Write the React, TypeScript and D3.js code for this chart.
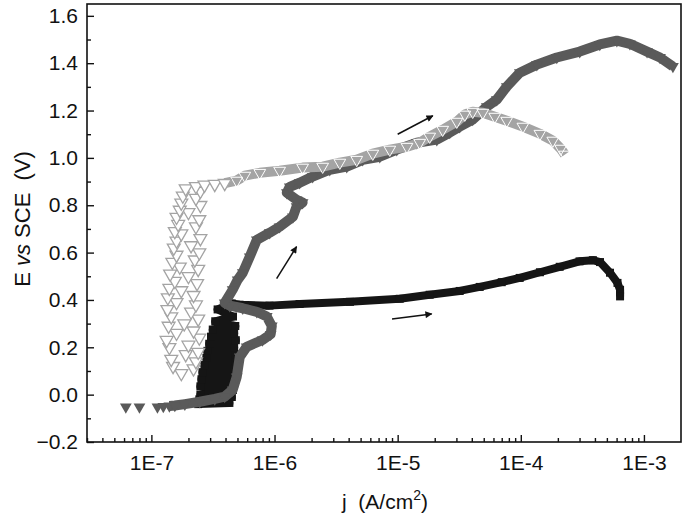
import React, { useRef, useEffect } from "react";
import * as d3 from "d3";

// black curve (filled squares): current density j (A/cm2) and potential E (V)
const blackJ = [
  2.4e-7, 4.3e-7, 2.45e-7, 4.5e-7, 2.5e-7, 4.6e-7, 2.5e-7, 4.7e-7, 2.55e-7, 4.8e-7,
  2.6e-7, 4.7e-7, 2.7e-7, 4.85e-7, 2.8e-7, 4.8e-7, 2.85e-7, 4.7e-7, 2.95e-7, 4.85e-7,
  3.05e-7, 4.7e-7, 3.15e-7, 4.8e-7, 3.3e-7, 4.6e-7, 3.45e-7, 4.5e-7,
  5.2e-7, 9.1e-7, 1.6e-6, 4.1e-6, 1.04e-5, 1.82e-5, 3.19e-5, 4.64e-5, 7.0e-5, 9.8e-5,
  1.43e-4, 2.07e-4, 3.0e-4, 3.85e-4, 4.4e-4, 5.3e-4, 6.1e-4, 6.4e-4, 6.4e-4,
];
const blackE = [
  -0.04, -0.035, -0.02, -0.01, 0.0, 0.02, 0.035, 0.05, 0.065, 0.08,
  0.095, 0.11, 0.125, 0.14, 0.155, 0.17, 0.185, 0.2, 0.215, 0.23,
  0.245, 0.26, 0.275, 0.29, 0.31, 0.33, 0.36, 0.385,
  0.38, 0.376, 0.383, 0.392, 0.405, 0.422, 0.438, 0.455, 0.475, 0.493,
  0.517, 0.54, 0.563, 0.568, 0.56, 0.515, 0.472, 0.443, 0.415,
];

// dark grey curve (filled down triangles)
const darkJ = [
  6.2e-8, 8.0e-8, 1.12e-7, 1.25e-7, 1.4e-7, 1.55e-7, 1.87e-7, 2.47e-7, 3.27e-7, 3.94e-7, 4.57e-7,
  4.93e-7, 5.22e-7, 5.94e-7, 8.0e-7, 9.3e-7, 9.5e-7, 8.65e-7, 7.18e-7, 5.52e-7, 4.33e-7,
  3.94e-7, 4.57e-7, 5.02e-7, 5.52e-7, 6.29e-7, 7.18e-7, 9.14e-7, 1.1e-6, 1.41e-6, 1.51e-6,
  1.69e-6, 1.51e-6, 1.26e-6, 1.33e-6, 1.6e-6, 2.04e-6, 2.81e-6, 3.86e-6, 5.2e-6, 7.16e-6,
  9.84e-6, 1.43e-5, 2.08e-5, 2.65e-5, 3.19e-5, 4.07e-5, 5.29e-5, 6.38e-5, 7.69e-5, 9.82e-5,
  1.35e-4, 1.96e-4, 3.01e-4, 4.38e-4, 6.03e-4, 7.69e-4, 1.06e-3, 1.35e-3, 1.72e-3,
];
const darkE = [
  -0.052, -0.052, -0.052, -0.05, -0.048, -0.046, -0.04, -0.03, -0.018, -0.008, 0.02,
  0.075, 0.159, 0.202, 0.231, 0.255, 0.29, 0.33, 0.35, 0.365, 0.376,
  0.388, 0.443, 0.485, 0.515, 0.582, 0.654, 0.684, 0.709, 0.751, 0.794,
  0.811, 0.823, 0.853, 0.878, 0.895, 0.921, 0.95, 0.963, 0.992, 1.005,
  1.035, 1.064, 1.077, 1.107, 1.132, 1.162, 1.216, 1.246, 1.301, 1.36,
  1.394, 1.424, 1.449, 1.479, 1.495, 1.482, 1.449, 1.424, 1.386,
];

// light grey curve (open down triangles)
const lightJ = [
  1.75e-7, 2.2e-7, 1.5e-7, 2.3e-7, 1.45e-7, 1.9e-7, 2.4e-7, 1.4e-7, 2.0e-7, 1.33e-7,
  2.45e-7, 1.6e-7, 2.2e-7, 1.38e-7, 1.85e-7, 2.4e-7, 1.45e-7, 2.1e-7, 1.35e-7, 2.3e-7,
  1.6e-7, 1.36e-7, 2.2e-7, 1.75e-7, 1.4e-7, 2.35e-7, 1.55e-7, 2.0e-7, 1.42e-7, 2.4e-7,
  1.7e-7, 1.48e-7, 2.25e-7, 1.6e-7, 2.45e-7, 1.52e-7, 2.1e-7, 1.6e-7, 2.5e-7, 1.75e-7,
  1.55e-7, 2.3e-7, 1.65e-7, 2.45e-7, 1.6e-7, 2.0e-7, 1.7e-7, 2.5e-7, 1.75e-7, 2.3e-7,
  1.8e-7, 2.5e-7, 1.9e-7, 2.3e-7,
  2.7e-7, 3.27e-7, 3.94e-7, 4.93e-7, 5.73e-7, 7.59e-7, 1.1e-6, 1.69e-6, 2.46e-6, 3.39e-6, 4.65e-6,
  6.28e-6, 8.63e-6, 1.19e-5, 1.51e-5, 1.82e-5, 2.32e-5, 3.02e-5, 3.51e-5, 4.07e-5, 4.91e-5,
  6.15e-5, 7.69e-5, 1.04e-4, 1.43e-4, 1.82e-4, 2.11e-4, 2.28e-4,
];
const lightE = [
  0.09, 0.11, 0.12, 0.14, 0.15, 0.17, 0.18, 0.2, 0.21, 0.23,
  0.24, 0.26, 0.27, 0.29, 0.3, 0.32, 0.33, 0.35, 0.36, 0.38,
  0.39, 0.41, 0.42, 0.44, 0.45, 0.47, 0.48, 0.5, 0.51, 0.53,
  0.54, 0.56, 0.57, 0.59, 0.6, 0.62, 0.63, 0.65, 0.66, 0.68,
  0.69, 0.71, 0.72, 0.74, 0.75, 0.77, 0.78, 0.8, 0.81, 0.83,
  0.84, 0.86, 0.87, 0.88,
  0.886, 0.889, 0.893, 0.904, 0.925, 0.937, 0.946, 0.959, 0.963, 0.98, 0.992,
  1.018, 1.035, 1.047, 1.064, 1.09, 1.119, 1.153, 1.183, 1.195, 1.191,
  1.174, 1.157, 1.132, 1.102, 1.073, 1.039, 1.014,
];

// direction arrows: [j0, E0, j1, E1]
const arrows = [
  [1.04e-6, 0.49, 1.51e-6, 0.625],
  [1.0e-5, 1.1, 1.93e-5, 1.178],
  [9.0e-6, 0.32, 1.89e-5, 0.341],
];

const yTicks = [-0.2, 0.0, 0.2, 0.4, 0.6, 0.8, 1.0, 1.2, 1.4, 1.6];
const xTicks = [1e-7, 1e-6, 1e-5, 1e-4, 1e-3];

const FONT = "'Liberation Sans', Arial, sans-serif";

const App = () => {
  const ref = useRef<SVGSVGElement>(null);

  useEffect(() => {
    draw();
  }, []);

  const draw = () => {
    const svg = d3.select(ref.current);
    svg.selectAll("*").remove();

    const left = 87, right = 681, top = 4, bottom = 442;

    const x = d3.scaleLog().domain([3e-8, 2e-3]).range([left, right]);
    const y = d3.scaleLinear().domain([-0.2, 1.65]).range([bottom, top]);

    svg
      .append("defs")
      .append("marker")
      .attr("id", "arrowhead")
      .attr("viewBox", "0 0 10 10")
      .attr("refX", 9)
      .attr("refY", 5)
      .attr("markerWidth", 10)
      .attr("markerHeight", 7)
      .attr("markerUnits", "userSpaceOnUse")
      .attr("orient", "auto")
      .append("path")
      .attr("d", "M0,0 L10,5 L0,10 Z")
      .attr("fill", "#111");

    const line = d3
      .line<[number, number]>()
      .x((d) => x(d[0]))
      .y((d) => y(d[1]));

    const tri = d3.symbol().type(d3.symbolTriangle).size(60)();
    const triBig = d3.symbol().type(d3.symbolTriangle).size(72)();
    const sq = d3.symbol().type(d3.symbolSquare).size(64)();

    const pairs = (J: number[], E: number[]) =>
      J.map((j, i) => [j, E[i]] as [number, number]);

    // black squares
    const blackPts = pairs(blackJ, blackE);
    svg
      .append("path")
      .attr("d", line(blackPts))
      .attr("fill", "none")
      .attr("stroke", "#151515")
      .attr("stroke-width", 8)
      .attr("stroke-linejoin", "round");
    svg
      .append("g")
      .selectAll("path")
      .data(blackPts)
      .join("path")
      .attr("d", sq)
      .attr("transform", (d) => `translate(${x(d[0])},${y(d[1])})`)
      .attr("fill", "#151515");

    // dark grey filled triangles
    const darkPts = pairs(darkJ, darkE);
    svg
      .append("path")
      .attr("d", line(darkPts.slice(4)))
      .attr("fill", "none")
      .attr("stroke", "#5a5a5a")
      .attr("stroke-width", 10)
      .attr("stroke-linejoin", "round");
    svg
      .append("g")
      .selectAll("path")
      .data(darkPts)
      .join("path")
      .attr("d", tri)
      .attr("transform", (d) => `translate(${x(d[0])},${y(d[1])}) rotate(180)`)
      .attr("fill", "#5a5a5a");

    // light grey open triangles: scattered column, then a dense band
    const lightPts = pairs(lightJ, lightE);
    const band = lightPts.filter((d) => d[0] >= 3.9e-7);
    const scatter = lightPts.filter((d) => d[0] < 4.9e-7);
    svg
      .append("path")
      .attr("d", line(band))
      .attr("fill", "none")
      .attr("stroke", "#a4a4a4")
      .attr("stroke-width", 10)
      .attr("stroke-linejoin", "round");
    svg
      .append("g")
      .selectAll("path")
      .data(band)
      .join("path")
      .attr("d", tri)
      .attr("transform", (d) => `translate(${x(d[0])},${y(d[1])}) rotate(180)`)
      .attr("fill", "none")
      .attr("stroke", "#fff")
      .attr("stroke-width", 1);
    svg
      .append("g")
      .selectAll("path")
      .data(scatter)
      .join("path")
      .attr("d", triBig)
      .attr("transform", (d) => `translate(${x(d[0])},${y(d[1])}) rotate(180)`)
      .attr("fill", "#fff")
      .attr("stroke", "#a4a4a4")
      .attr("stroke-width", 1.3);

    // arrows
    arrows.forEach((a) => {
      svg
        .append("line")
        .attr("x1", x(a[0]))
        .attr("y1", y(a[1]))
        .attr("x2", x(a[2]))
        .attr("y2", y(a[3]))
        .attr("stroke", "#111")
        .attr("stroke-width", 1.5)
        .attr("marker-end", "url(#arrowhead)");
    });

    // frame
    svg
      .append("rect")
      .attr("x", left)
      .attr("y", top)
      .attr("width", right - left)
      .attr("height", bottom - top)
      .attr("fill", "none")
      .attr("stroke", "#111")
      .attr("stroke-width", 1.6);

    // y axis
    const yAxis = svg
      .append("g")
      .attr("transform", `translate(${left},0)`)
      .call(
        d3
          .axisLeft(y)
          .tickValues(yTicks)
          .tickSize(-7)
          .tickPadding(9)
          .tickFormat((d) => d3.format(".1f")(d as number))
      );
    const yMinor = d3.range(-0.1, 1.6, 0.2);
    svg
      .append("g")
      .attr("transform", `translate(${left},0)`)
      .call(d3.axisLeft(y).tickValues(yMinor).tickSize(-4).tickFormat(() => ""));

    // x axis
    const xAxis = svg
      .append("g")
      .attr("transform", `translate(0,${bottom})`)
      .call(
        d3
          .axisBottom(x)
          .tickValues(xTicks)
          .tickSize(-7)
          .tickPadding(13)
          .tickFormat((d) => "1E" + Math.round(Math.log10(d as number)))
      );
    const xMinor: number[] = [];
    for (let p = -8; p <= -3; p++) {
      for (let m = 2; m <= 9; m++) {
        const v = m * Math.pow(10, p);
        if (v > 3e-8 && v < 2e-3) xMinor.push(v);
      }
    }
    svg
      .append("g")
      .attr("transform", `translate(0,${bottom})`)
      .call(d3.axisBottom(x).tickValues(xMinor).tickSize(-4).tickFormat(() => ""));

    svg.selectAll(".domain").remove();
    svg
      .selectAll(".tick line")
      .attr("stroke", "#111")
      .attr("stroke-width", 1.4);
    [yAxis, xAxis].forEach((g) =>
      g
        .selectAll("text")
        .attr("font-family", FONT)
        .attr("font-size", 21)
        .attr("fill", "#111")
    );

    // axis titles
    const yTitle = svg
      .append("text")
      .attr("transform", `translate(30,219) rotate(-90)`)
      .attr("text-anchor", "middle")
      .attr("font-family", FONT)
      .attr("font-size", 22)
      .attr("fill", "#111")
      .attr("xml:space", "preserve");
    yTitle.append("tspan").text("E ");
    yTitle.append("tspan").attr("font-style", "italic").text("vs");
    yTitle.append("tspan").text(" SCE  (V)");

    const xTitle = svg
      .append("text")
      .attr("x", 385)
      .attr("y", 509)
      .attr("text-anchor", "middle")
      .attr("font-family", FONT)
      .attr("font-size", 21)
      .attr("fill", "#111")
      .attr("xml:space", "preserve");
    xTitle.append("tspan").text("j  (A/cm");
    xTitle.append("tspan").attr("font-size", 14).attr("dy", -9).text("2");
    xTitle.append("tspan").attr("dy", 9).text(")");
  };

  return (
    <svg
      ref={ref}
      width={685}
      height={525}
      style={{ position: "absolute", left: 0, top: 0, background: "#fff" }}
    ></svg>
  );
};

export default App;
